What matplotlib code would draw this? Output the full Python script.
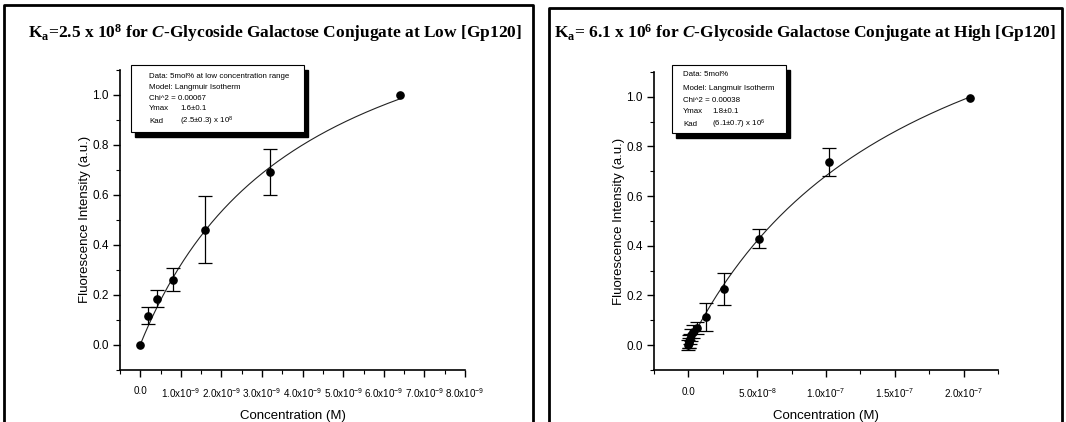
import numpy as np
import matplotlib
matplotlib.use("Agg")
import matplotlib.pyplot as plt
from matplotlib.patches import Rectangle
from matplotlib.lines import Line2D
from matplotlib.ticker import MultipleLocator, FixedLocator

plt.rcParams['font.family'] = ['Liberation Sans', 'DejaVu Sans']
plt.rcParams['mathtext.fontset'] = 'custom'
plt.rcParams['mathtext.rm'] = 'Liberation Serif:bold'
plt.rcParams['mathtext.it'] = 'Liberation Serif:bold:italic'
plt.rcParams['mathtext.bf'] = 'Liberation Serif:bold'
plt.rcParams['mathtext.sf'] = 'Liberation Sans'

# left panel: low [Gp120]
low_conc = [0.0, 0.2e-9, 0.4e-9, 0.8e-9, 1.6e-9, 3.2e-9, 6.4e-9]
low_intensity = [0.0, 0.115, 0.184, 0.26, 0.46, 0.692, 1.0]
low_err = [0.0, 0.034, 0.035, 0.046, 0.135, 0.093, 0.0]
low_ymax, low_kad = 1.6, 2.5e8
low_xticks = [0, 1e-9, 2e-9, 3e-9, 4e-9, 5e-9, 6e-9, 7e-9, 8e-9]
low_xlabels = ["0.0", "1.0x10$^{-9}$", "2.0x10$^{-9}$", "3.0x10$^{-9}$", "4.0x10$^{-9}$",
               "5.0x10$^{-9}$", "6.0x10$^{-9}$", "7.0x10$^{-9}$", "8.0x10$^{-9}$"]

# right panel: high [Gp120]
high_conc = [0.0, 0.2e-9, 0.4e-9, 0.8e-9, 1.6e-9, 3.2e-9, 6.4e-9, 12.8e-9,
             25.6e-9, 51.2e-9, 102.4e-9, 204.8e-9]
high_intensity = [0.0, 0.008, 0.015, 0.025, 0.04, 0.055, 0.07, 0.114,
                  0.227, 0.428, 0.738, 0.995]
high_err = [0.02, 0.02, 0.025, 0.02, 0.025, 0.025, 0.025, 0.055,
            0.065, 0.038, 0.057, 0.0]
high_ymax, high_kad = 1.8, 6.1e6
high_xticks = [0, 5e-8, 1e-7, 1.5e-7, 2e-7]
high_xlabels = ["0.0", "5.0x10$^{-8}$", "1.0x10$^{-7}$", "1.5x10$^{-7}$", "2.0x10$^{-7}$"]

yticks = [0.0, 0.2, 0.4, 0.6, 0.8, 1.0]

W, H = 1066, 422
fig = plt.figure(figsize=(W / 100, H / 100), dpi=100)


def box(x0, y0, x1, y1):
    # pixel box (top-left origin) -> figure fraction rect
    return [x0 / W, 1 - y1 / H, (x1 - x0) / W, (y1 - y0) / H]


def sf(s):
    return r"$\mathsf{" + s.replace("$", "") + "}$" if "$" in s else s


def panel(rect, conc, inten, err, ymax, kad, xticks, xlabels, xlim, xminor):
    ax = fig.add_axes(rect)
    fit_x = np.linspace(0, max(conc), 300)
    fit_y = ymax * kad * fit_x / (1 + kad * fit_x)
    ax.plot(fit_x, fit_y, color='#222222', lw=0.8, zorder=2)
    conc, inten, err = map(np.asarray, (conc, inten, err))
    has = err > 0
    ax.errorbar(conc[has], inten[has], yerr=err[has], fmt='none', ecolor='black',
                elinewidth=0.9, capsize=5, capthick=0.9, zorder=3)
    ax.plot(conc, inten, 'o', color='black', ms=5.2, zorder=4)
    ax.set_xlim(*xlim)
    ax.set_ylim(-0.1, 1.1)
    ax.spines['top'].set_visible(False)
    ax.spines['right'].set_visible(False)
    ax.spines['left'].set_linewidth(1.2)
    ax.spines['bottom'].set_linewidth(1.2)
    ax.xaxis.set_major_locator(FixedLocator(xticks))
    ax.set_xticklabels([sf(s) for s in xlabels], fontsize=7.1)
    ax.xaxis.set_minor_locator(MultipleLocator(xminor))
    ax.yaxis.set_major_locator(FixedLocator(yticks))
    ax.set_yticklabels([f"{v:.1f}" for v in yticks], fontsize=8.5)
    ax.yaxis.set_minor_locator(MultipleLocator(0.1))
    ax.tick_params(which='major', length=5, width=1, pad=7)
    ax.tick_params(axis='y', which='major', pad=3)
    ax.tick_params(which='minor', length=3, width=0.8)
    ax.set_xlabel("Concentration (M)", fontsize=9.5, labelpad=7)
    ax.set_ylabel("Fluorescence Intensity (a.u.)", fontsize=9.5, labelpad=1)
    return ax


panel(box(120, 70, 465, 369.5), low_conc, low_intensity, low_err, low_ymax, low_kad,
      low_xticks, low_xlabels, (-0.5e-9, 8e-9), 0.5e-9)
panel(box(654, 72, 998, 370), high_conc, high_intensity, high_err, high_ymax, high_kad,
      high_xticks, high_xlabels, (-2.5e-8, 2.25e-7), 2.5e-8)

# panel frames
for x0, y0, x1 in [(4, 5, 533), (549, 8, 1062)]:
    xs = [x0 / W, x0 / W, x1 / W, x1 / W]
    ys = [0, 1 - y0 / H, 1 - y0 / H, 0]
    fig.add_artist(Line2D(xs, ys, color='black', lw=2))

# titles
fig.text(275 / W, 1 - 33 / H,
         r"K$_\mathrm{a}$=2.5 x 10$^\mathrm{8}$ for $\mathit{C}$-Glycoside Galactose Conjugate at Low [Gp120]",
         family='Liberation Serif', weight='bold', fontsize=12.5, ha='center', va='center')
fig.text(805 / W, 1 - 33 / H,
         r"K$_\mathrm{a}$= 6.1 x 10$^\mathrm{6}$ for $\mathit{C}$-Glycoside Galactose Conjugate at High [Gp120]",
         family='Liberation Serif', weight='bold', fontsize=12.5, ha='center', va='center')


def info_box(x0, y0, x1, y1, rows, tx, vx):
    b = box(x0 + 4, y0 + 5, x1 + 4, y1 + 5)
    fig.add_artist(Rectangle((b[0], b[1]), b[2], b[3], transform=fig.transFigure,
                             facecolor='black', edgecolor='black', zorder=5))
    b = box(x0, y0, x1, y1)
    fig.add_artist(Rectangle((b[0], b[1]), b[2], b[3], transform=fig.transFigure,
                             facecolor='white', edgecolor='black', lw=0.8, zorder=6))
    for y, label, value in rows:
        fig.text(tx / W, 1 - y / H, label, fontsize=5.7, va='center', zorder=7)
        if value:
            fig.text(vx / W, 1 - y / H, value, fontsize=5.7, va='center', zorder=7)


info_box(131, 65, 304, 132,
         [(77, "Data: 5mol% at low concentration range", ""),
          (87.5, "Model: Langmuir Isotherm", ""),
          (98, "Chi^2 = 0.00067", ""),
          (109, "Ymax", "1.6\u00b10.1"),
          (121.5, "Kad", "(2.5\u00b10.3) x 10$^\\mathsf{8}$")],
         149, 180)
info_box(672, 65, 786, 133,
         [(75, "Data: 5mol%", ""),
          (88, "Model: Langmuir Isotherm", ""),
          (100, "Chi^2 = 0.00038", ""),
          (111.5, "Ymax", "1.8\u00b10.1"),
          (124.5, "Kad", "(6.1\u00b10.7) x 10$^\\mathsf{6}$")],
         683, 712)

fig.savefig("out.png", dpi=100)
